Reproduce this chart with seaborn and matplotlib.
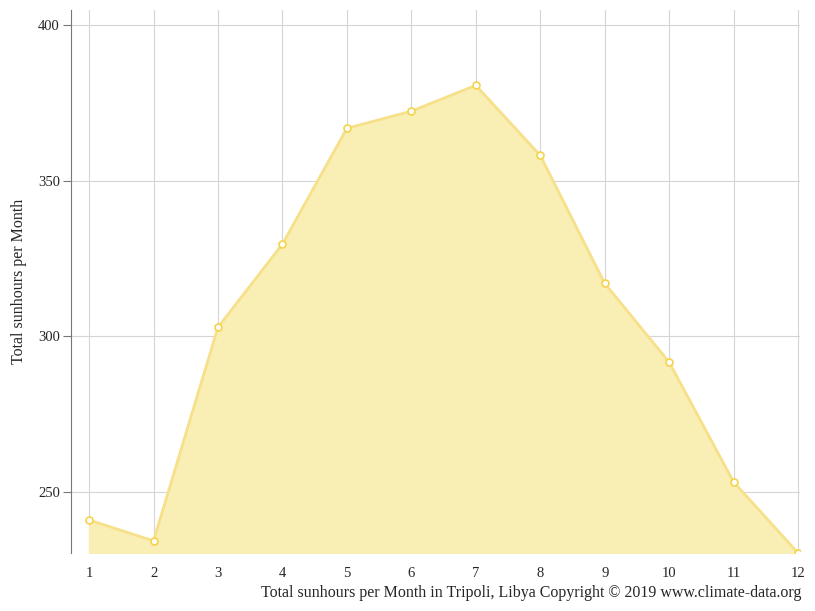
import matplotlib
matplotlib.use("Agg")
import matplotlib.pyplot as plt
import seaborn as sns
import pandas as pd

months = [1, 2, 3, 4, 5, 6, 7, 8, 9, 10, 11, 12]
sunhours = [241, 234.3, 302.9, 329.6, 366.8, 372.3, 380.6, 358.1, 317, 291.7, 253.2, 230.4]
y_ticks = [250, 300, 350, 400]

sns.set_style("white")
plt.rcParams['font.family'] = ['Liberation Serif', 'DejaVu Serif']

df = pd.DataFrame({"month": months, "hours": sunhours})

fig = plt.figure(figsize=(8.15, 6.11), dpi=100)
ax = fig.add_axes([71 / 815, 58 / 611, 729 / 815, 543 / 611])

ymin, ymax = 230.4, 404.8
ax.fill_between(df["month"], df["hours"], ymin, color="#f9eeb3", zorder=2)
sns.lineplot(data=df, x="month", y="hours", ax=ax, color="#f7e08a", linewidth=2,
             marker="o", markersize=5, markerfacecolor="white",
             markeredgecolor="#f5d34a", markeredgewidth=1.2, zorder=3)

ax.set_xlim(0.72, 12.03)
ax.set_ylim(ymin, ymax)
ax.set_xticks(months)
ax.set_yticks(y_ticks)
ax.grid(True, color="#d5d5d5", linewidth=0.8, zorder=0)
ax.set_axisbelow(True)
for s in ["top", "right", "bottom"]:
    ax.spines[s].set_visible(False)
ax.spines["left"].set_color("#777777")
ax.tick_params(axis="y", length=6, color="#777777", labelsize=10.5, pad=2, left=True)
ax.tick_params(axis="x", length=0, labelsize=10.5, pad=10)
ax.set_xlabel("")
ax.set_ylabel("Total sunhours per Month", fontsize=11.5, labelpad=8)

fig.text(801 / 815, 1 - 593 / 611, "Total sunhours per Month in Tripoli, Libya Copyright © 2019 www.climate-data.org",
         ha="right", va="center", fontsize=11.5)

fig.savefig("out.png", dpi=100)
